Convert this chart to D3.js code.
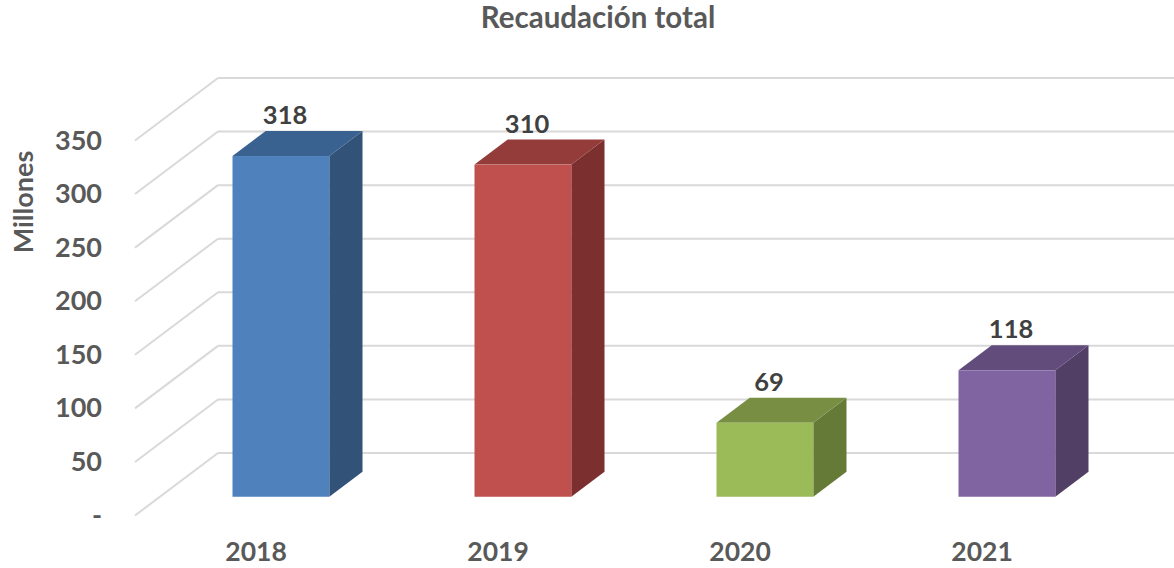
<!DOCTYPE html>
<html>
<head>
<meta charset="utf-8">
<script src="https://cdn.jsdelivr.net/npm/d3@7"></script>
<style>
  html, body { margin: 0; padding: 0; background: #fff; }
  svg { display: block; }
  text { font-family: Lato, "Open Sans", sans-serif; font-weight: 700; fill: #595959; }
</style>
</head>
<body>
<svg id="chart" width="1174" height="568"></svg>
<script>
// ---- data ----
const categories = ["2018", "2019", "2020", "2021"];
const values = [318, 310, 69, 118];
const frontColors = ["#4F81BD", "#C0504D", "#9BBB59", "#8064A2"];
const topColors   = ["#3A6291", "#943C3A", "#788F43", "#614C7C"];
const sideColors  = ["#325278", "#7B2F2E", "#667A37", "#523F65"];
const yTicks = [0, 50, 100, 150, 200, 250, 300, 350];
const tickLabels = ["-", "50", "100", "150", "200", "250", "300", "350"];
const title = "Recaudación total";
const yTitle = "Millones";

// ---- layout ----
const W = 1174, H = 568;
const backLeft = 218, backRight = 1186;
const depthDX = -83, depthDY = 62.5;   // offset from back wall to front edge
const zBack = 0.3, zFront = 0.7;       // bar depth within floor

const svg = d3.select("#chart");

const x = d3.scaleBand().domain(categories).range([backLeft, backRight])
  .paddingInner(0.6).paddingOuter(0.3);
const y = d3.scaleLinear().domain([0, 350]).range([453, 78]);

const proj = (px, v, z) => [px + depthDX * z, y(v) + depthDY * z];

// gridlines: back wall + side/floor diagonal
const grid = svg.append("g");
yTicks.forEach(t => {
  const [bx, by] = proj(backLeft, t, 0);
  const [fx, fy] = proj(backLeft, t, 1);
  grid.append("line").attr("x1", bx).attr("y1", by).attr("x2", W).attr("y2", by)
    .attr("stroke", "#D9D9D9").attr("stroke-width", 2);
  grid.append("line").attr("x1", fx).attr("y1", fy).attr("x2", bx).attr("y2", by)
    .attr("stroke", "#D9D9D9").attr("stroke-width", 2);
});

// bars
const bars = svg.append("g");
categories.forEach((c, i) => {
  const v = values[i];
  const x0 = x(c), x1 = x(c) + x.bandwidth();
  const ptStr = pts => pts.map(p => p.join(",")).join(" ");
  // side face (right)
  bars.append("polygon").attr("points", ptStr([
    proj(x1, 0, zFront), proj(x1, v, zFront), proj(x1, v, zBack), proj(x1, 0, zBack)
  ])).attr("fill", sideColors[i]);
  // top face
  bars.append("polygon").attr("points", ptStr([
    proj(x0, v, zFront), proj(x1, v, zFront), proj(x1, v, zBack), proj(x0, v, zBack)
  ])).attr("fill", topColors[i]);
  // front face
  const [fx0, fy0] = proj(x0, v, zFront);
  const [fx1, fy1] = proj(x1, 0, zFront);
  bars.append("rect").attr("x", fx0).attr("y", fy0)
    .attr("width", fx1 - fx0).attr("height", fy1 - fy0).attr("fill", frontColors[i]);
  // value label
  const [lx] = proj(x(c) + x.bandwidth() / 2, v, 0.65);
  const [, ly] = proj(x0, v, zBack);
  svg.append("text").attr("x", lx).attr("y", ly - 7).attr("text-anchor", "middle")
    .attr("font-size", 25.5).style("fill", "#404040").text(v);
});

// y axis labels (front plane)
const yFront = d3.scaleLinear().domain(y.domain()).range(y.range().map(r => r + depthDY));
const yAxis = d3.axisLeft(yFront).tickValues(yTicks)
  .tickFormat((d, i) => tickLabels[i]).tickSize(0).tickPadding(0);
const ya = svg.append("g").attr("transform", "translate(102,0)").call(yAxis);
ya.select(".domain").remove();
ya.selectAll("text").attr("font-size", 27).style("font-family", "Lato, sans-serif")
  .style("font-weight", 700).style("fill", "#595959");

// x axis labels (front plane)
const xFront = d3.scaleBand().domain(categories).range([backLeft + depthDX, backRight + depthDX])
  .paddingInner(0.6).paddingOuter(0.3);
const xa = svg.append("g").attr("transform", "translate(0,542)")
  .call(d3.axisBottom(xFront).tickSize(0).tickPadding(0));
xa.select(".domain").remove();
xa.selectAll("text").attr("font-size", 26.5).attr("dy", "0.71em").style("font-family", "Lato, sans-serif")
  .style("font-weight", 700).style("fill", "#595959");

// titles
svg.append("text").attr("x", 598).attr("y", 28).attr("text-anchor", "middle")
  .attr("font-size", 29.5).text(title);
svg.append("text").attr("transform", "translate(33,202) rotate(-90)")
  .attr("text-anchor", "middle").attr("font-size", 27).text(yTitle);
</script>
</body>
</html>
